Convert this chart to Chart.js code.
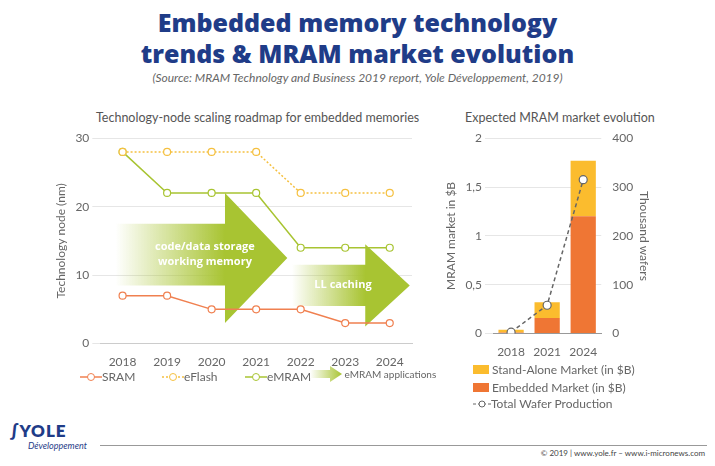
<!DOCTYPE html>
<html><head><meta charset="utf-8">
<script src="https://cdn.jsdelivr.net/npm/chart.js@4.4.1/dist/chart.umd.min.js"></script>
<style>
body{margin:0;width:715px;height:466px;background:#fff;font-family:"Gill Sans","Lato","Open Sans",sans-serif;position:relative;overflow:hidden}
.t{position:absolute;left:0;width:715px;text-align:center;color:#1f3c88;font-family:"Open Sans",sans-serif;font-weight:800;font-size:25px;line-height:31px;top:7px}
.s{position:absolute;top:70px;left:0;width:715px;text-align:center;font-style:italic;color:#666;font-size:12px}
.ct{position:absolute;color:#555;font-size:12.5px}
.lg{position:absolute;color:#666;font-size:12px;display:flex;align-items:center;white-space:nowrap}
.box{display:inline-block;width:16px;height:9px;margin-right:3px}
.foot{position:absolute;left:100px;right:8px;top:445px;border-top:1px solid #999}
.ft{position:absolute;right:10px;top:448px;font-size:8px;color:#444}
.logo{position:absolute;left:10px;top:420px;color:#1f3c88;font-weight:800;font-size:17px;letter-spacing:1px}
.logo2{position:absolute;left:28px;top:440px;color:#1f3c88;font-style:italic;font-size:9px}
canvas{position:absolute}
</style></head><body>
<div class="t">Embedded memory technology<br>trends &amp; MRAM market evolution</div>
<div class="s">(Source: MRAM Technology and Business 2019 report, Yole Développement, 2019)</div>
<div class="ct" style="left:96px;top:110px">Technology-node scaling roadmap for embedded memories</div>
<div class="ct" style="left:465px;top:110px">Expected MRAM market evolution</div>
<div style="position:absolute;left:50px;top:128px;width:370px;height:244px"><canvas id="left"></canvas></div>
<div style="position:absolute;left:440px;top:128px;width:215px;height:234px"><canvas id="right"></canvas></div>
<div class="lg" style="left:80px;top:369px"><svg width="22" height="10"><line x1="0" y1="5" x2="22" y2="5" stroke="#f08050" stroke-width="1.5"/><circle cx="11" cy="5" r="3.5" fill="#fff" stroke="#f08050"/></svg>SRAM</div>
<div class="lg" style="left:162px;top:369px"><svg width="22" height="10"><line x1="0" y1="5" x2="22" y2="5" stroke="#f5c040" stroke-width="1.5" stroke-dasharray="2,2"/><circle cx="11" cy="5" r="3.5" fill="#fff" stroke="#f5c040"/></svg>eFlash</div>
<div class="lg" style="left:245px;top:369px"><svg width="22" height="10"><line x1="0" y1="5" x2="22" y2="5" stroke="#a8c432" stroke-width="1.5"/><circle cx="11" cy="5" r="3.5" fill="#fff" stroke="#a8c432"/></svg>eMRAM</div>
<div class="lg" style="left:310px;top:366px;font-size:10px"><svg width="32" height="16"><defs><linearGradient id="g"><stop offset="0" stop-color="#fff"/><stop offset="1" stop-color="#a8c432"/></linearGradient></defs><path d="M0 4H20V0L32 8L20 16V12H0Z" fill="url(#g)"/></svg>&nbsp;eMRAM applications</div>
<div class="lg" style="left:473px;top:362px"><span class="box" style="background:#fbbc2e"></span>Stand-Alone Market (in $B)</div>
<div class="lg" style="left:473px;top:380px"><span class="box" style="background:#ef7634"></span>Embedded Market (in $B)</div>
<div class="lg" style="left:473px;top:396px"><svg width="18" height="10"><line x1="0" y1="5" x2="18" y2="5" stroke="#666" stroke-dasharray="3,2"/><circle cx="9" cy="5" r="3" fill="#fff" stroke="#666"/></svg>Total Wafer Production</div>
<div class="logo">&#8747;YOLE</div><div class="logo2">Développement</div>
<div class="foot"></div>
<div class="ft">© 2019 | www.yole.fr – www.i-micronews.com</div>
<script>
const years = ['2018','2019','2020','2021','2022','2023','2024'];
const nodes = {
    SRAM:   [7, 7, 5, 5, 5, 3, 3],
    eFlash: [28, 28, 28, 28, 22, 22, 22],
    eMRAM:  [28, 22, 22, 22, 14, 14, 14]
};
// arrows in data units: x as category index
const arrows = [
    { x0: -0.16, xh: 2.3, x1: 3.7, b0: 8.5, b1: 17.5, h0: 3, h1: 22, text: ['code/data storage', 'working memory'], tx: 1.85, ty: 13 },
    { x0: 3.8, xh: 5.45, x1: 6.45, b0: 5.5, b1: 11.5, h0: 2.5, h1: 14.5, text: ['LL caching'], tx: 4.95, ty: 8.6 }
];
const arrowPlugin = {
    id: 'arrows',
    beforeDatasetsDraw(chart) {
        const ctx = chart.ctx, xs = chart.scales.x, ys = chart.scales.y;
        const px = (i) => xs.getPixelForValue(0) + i * (xs.getPixelForValue(1) - xs.getPixelForValue(0));
        ctx.save();
        arrows.forEach(a => {
            const X0 = px(a.x0), XH = px(a.xh), X1 = px(a.x1);
            const g = ctx.createLinearGradient(X0, 0, XH, 0);
            g.addColorStop(0, 'rgba(168,196,50,0)');
            g.addColorStop(1, 'rgba(168,196,50,1)');
            ctx.fillStyle = g;
            ctx.beginPath();
            ctx.moveTo(X0, ys.getPixelForValue(a.b1));
            ctx.lineTo(XH, ys.getPixelForValue(a.b1));
            ctx.lineTo(XH, ys.getPixelForValue(a.h1));
            ctx.lineTo(X1, ys.getPixelForValue((a.h0 + a.h1) / 2));
            ctx.lineTo(XH, ys.getPixelForValue(a.h0));
            ctx.lineTo(XH, ys.getPixelForValue(a.b0));
            ctx.lineTo(X0, ys.getPixelForValue(a.b0));
            ctx.closePath();
            ctx.fill();
            ctx.fillStyle = '#fff';
            ctx.font = 'bold 11px "Open Sans", sans-serif';
            ctx.textAlign = 'center';
            ctx.textBaseline = 'middle';
            const cy = ys.getPixelForValue(a.ty);
            a.text.forEach((t, i) => ctx.fillText(t, px(a.tx), cy + (i - (a.text.length - 1) / 2) * 15));
        });
        ctx.restore();
    }
};
function line(label, data, color, dash) {
    return {
        label, data, borderColor: color, borderWidth: 1.5, borderDash: dash || [],
        pointRadius: 3.5, pointBackgroundColor: '#fff', pointBorderColor: color, pointBorderWidth: 1.2, tension: 0
    };
}
Chart.defaults.font.family = '"Lato", "Open Sans", sans-serif';
Chart.defaults.color = '#666';
Chart.defaults.animation = false;
new Chart(document.getElementById('left'), {
    type: 'line',
    plugins: [arrowPlugin],
    data: {
        labels: years,
        datasets: [
            line('SRAM', nodes.SRAM, '#f08050'),
            line('eFlash', nodes.eFlash, '#f5c040', [2, 2]),
            line('eMRAM', nodes.eMRAM, '#a8c432')
        ]
    },
    options: {
        responsive: true, maintainAspectRatio: false,
        layout: { padding: { right: 8 } },
        plugins: { legend: { display: false }, tooltip: { enabled: false } },
        scales: {
            y: {
                min: 0, max: 30, ticks: { stepSize: 10, font: { size: 12 } },
                border: { display: false }, grid: { color: '#e6e6e6' },
                title: { display: true, text: 'Technology node (nm)', font: { size: 12 } }
            },
            x: { offset: true, grid: { display: false }, border: { color: '#ccc' }, ticks: { font: { size: 12 } } }
        }
    }
});
const market = {
    labels: ['2018', '2021', '2024'],
    embedded: [0.01, 0.16, 1.2],
    standalone: [0.03, 0.16, 0.57],
    wafers: [3, 58, 315]
};
new Chart(document.getElementById('right'), {
    type: 'bar',
    data: {
        labels: market.labels,
        datasets: [
            { type: 'line', label: 'Total Wafer Production', data: market.wafers, yAxisID: 'y2',
              borderColor: '#666', borderDash: [4, 3], borderWidth: 1.5, pointRadius: 4,
              pointBackgroundColor: '#fff', pointBorderColor: '#666', pointBorderWidth: 1.2, order: 0 },
            { label: 'Embedded Market (in $B)', data: market.embedded, backgroundColor: '#ef7634', stack: 's', order: 1,
              categoryPercentage: 1, barPercentage: 0.7 },
            { label: 'Stand-Alone Market (in $B)', data: market.standalone, backgroundColor: '#fbbc2e', stack: 's', order: 1,
              categoryPercentage: 1, barPercentage: 0.7 }
        ]
    },
    options: {
        responsive: true, maintainAspectRatio: false,
        plugins: { legend: { display: false }, tooltip: { enabled: false } },
        scales: {
            x: { stacked: true, grid: { display: false }, border: { color: '#999' }, ticks: { font: { size: 12 } } },
            y: {
                stacked: true, min: 0, max: 2, border: { display: false }, grid: { color: '#e6e6e6' },
                ticks: { stepSize: 0.5, font: { size: 12 }, callback: v => String(v).replace('.', ',') },
                title: { display: true, text: 'MRAM market in $B', font: { size: 12 } }
            },
            y2: {
                position: 'right', min: 0, max: 400, border: { display: false }, grid: { display: false },
                ticks: { stepSize: 100, font: { size: 12 } },
                title: { display: true, text: 'Thousand wafers', font: { size: 12 } }
            }
        }
    }
});
</script>
</body></html>
